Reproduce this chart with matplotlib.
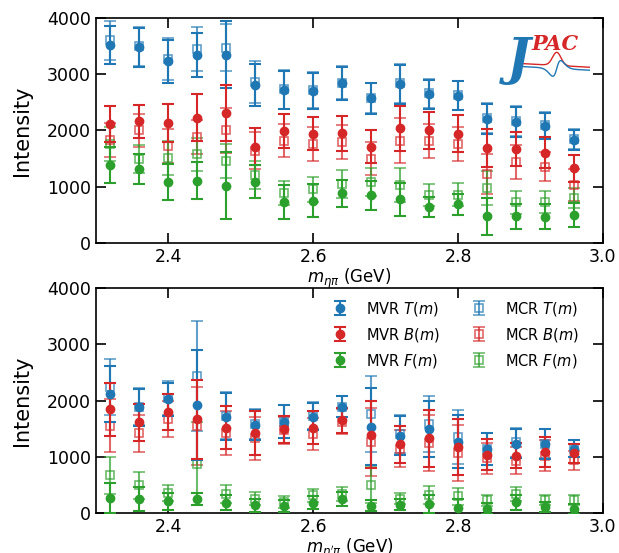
import numpy as np
import matplotlib
matplotlib.use('Agg')
import matplotlib.pyplot as plt

# mass bins (GeV)
m = [2.32, 2.36, 2.40, 2.44, 2.48, 2.52, 2.56, 2.60, 2.64, 2.68, 2.72, 2.76, 2.80, 2.84, 2.88, 2.92, 2.96]

# ---- eta pi (top panel) ----
etapi_mvr_T = [3520, 3480, 3230, 3340, 3350, 2810, 2720, 2705, 2840, 2570, 2820, 2645, 2620, 2200, 2155, 2080, 1830]
etapi_mvr_T_err = [340, 345, 380, 390, 600, 380, 340, 320, 290, 270, 345, 260, 255, 270, 270, 230, 175]
etapi_mcr_T = [3600, 3495, 3270, 3455, 3475, 2860, 2730, 2715, 2850, 2580, 2840, 2660, 2625, 2220, 2170, 2100, 1850]
etapi_mcr_T_err = [340, 345, 380, 390, 420, 380, 340, 320, 290, 270, 345, 260, 255, 270, 270, 230, 175]
etapi_mvr_B = [2115, 2160, 2130, 2230, 2305, 1710, 1990, 1945, 1950, 1710, 2040, 2000, 1940, 1695, 1675, 1605, 1330]
etapi_mvr_B_err = [320, 300, 335, 410, 500, 330, 300, 300, 310, 290, 400, 330, 330, 340, 300, 280, 240]
etapi_mcr_B = [1830, 2000, 1730, 1880, 2005, 1640, 1820, 1755, 1790, 1500, 1820, 1815, 1755, 1225, 1445, 1355, 1030]
etapi_mcr_B_err = [300, 300, 300, 300, 400, 330, 300, 300, 300, 290, 400, 300, 300, 350, 300, 260, 280]
etapi_mvr_F = [1390, 1310, 1080, 1105, 1020, 1090, 730, 755, 880, 845, 775, 640, 685, 475, 475, 465, 495]
etapi_mvr_F_err = [320, 270, 320, 330, 600, 290, 300, 290, 240, 260, 300, 180, 190, 330, 220, 220, 210]
etapi_mcr_F = [1760, 1500, 1515, 1575, 1460, 1205, 890, 955, 1050, 1080, 1035, 850, 860, 980, 720, 730, 795]
etapi_mcr_F_err = [300, 250, 300, 300, 300, 250, 220, 220, 250, 250, 300, 200, 200, 300, 200, 200, 180]

# ---- eta' pi (bottom panel) ----
etappi_mvr_T = [2115, 1880, 2020, 1925, 1710, 1565, 1625, 1710, 1890, 1535, 1375, 1490, 1270, 1145, 1235, 1225, 1145]
etappi_mvr_T_err = [500, 330, 300, 975, 420, 270, 290, 240, 185, 680, 345, 500, 475, 285, 260, 265, 150]
etappi_mcr_T = [2235, 1890, 2040, 2435, 1730, 1580, 1625, 1730, 1890, 1760, 1405, 1580, 1355, 1145, 1260, 1235, 1145]
etappi_mcr_T_err = [500, 330, 300, 970, 420, 270, 290, 240, 185, 670, 345, 500, 475, 285, 260, 265, 150]
etappi_mvr_B = [1845, 1615, 1800, 1665, 1520, 1415, 1490, 1520, 1650, 1395, 1225, 1325, 1175, 1040, 1020, 1080, 1060]
etappi_mvr_B_err = [475, 330, 320, 700, 390, 390, 240, 290, 225, 600, 330, 500, 500, 270, 220, 270, 170]
etappi_mcr_B = [1555, 1415, 1665, 1545, 1415, 1325, 1475, 1405, 1625, 1265, 1145, 1250, 1070, 970, 925, 1020, 940]
etappi_mcr_B_err = [475, 330, 320, 700, 390, 390, 240, 290, 225, 600, 330, 500, 500, 270, 240, 270, 170]
etappi_mvr_F = [265, 245, 210, 250, 185, 135, 125, 185, 245, 130, 150, 160, 95, 75, 190, 100, 75]
etappi_mvr_F_err = [260, 210, 150, 100, 130, 120, 110, 120, 120, 100, 100, 160, 150, 100, 130, 90, 90]
etappi_mcr_F = [670, 495, 355, 880, 345, 255, 195, 315, 335, 505, 255, 325, 295, 225, 335, 225, 225]
etappi_mcr_F_err = [330, 240, 145, 740, 160, 120, 110, 120, 120, 330, 100, 160, 150, 100, 130, 90, 90]

labels_mvr = ['MVR $T(m)$', 'MVR $B(m)$', 'MVR $F(m)$']
labels_mcr = ['MCR $T(m)$', 'MCR $B(m)$', 'MCR $F(m)$']
colors = ['#1f77b4', '#d62728', '#2ca02c']

fig = plt.figure(figsize=(6.19, 5.53), dpi=100)
ax1 = fig.add_axes([0.155, 0.5606, 0.819, 0.4069])
ax2 = fig.add_axes([0.155, 0.0723, 0.819, 0.4069])


def draw_panel(ax, mvr, mvr_err, mcr, mcr_err, xlabel):
  handles = []
  for k in range(3):
    h = ax.errorbar(m, mvr[k], yerr=mvr_err[k], fmt='o', color=colors[k], ms=6,
                    capsize=4, elinewidth=1.5, capthick=1.5, label=labels_mvr[k], zorder=3)
    handles.append(h)
  for k in range(3):
    h = ax.errorbar(m, mcr[k], yerr=mcr_err[k], fmt='s', color=colors[k], mfc='none', ms=6,
                    mew=1.2, capsize=4, elinewidth=1.5, capthick=1.5, alpha=0.7,
                    label=labels_mcr[k], zorder=2)
    handles.append(h)
  ax.set_xlim(2.3, 3.0)
  ax.set_ylim(0, 4000)
  ax.set_xticks([2.4, 2.6, 2.8, 3.0])
  ax.set_yticks([0, 1000, 2000, 3000, 4000])
  ax.tick_params(direction='in', top=True, right=True, length=7, width=1.2, labelsize=12.5)
  ax.set_ylabel('Intensity', fontsize=15, labelpad=11)
  ax.set_xlabel(xlabel, fontsize=12, labelpad=1)
  for sp in ax.spines.values():
    sp.set_linewidth(1.2)
  return handles


draw_panel(ax1, [etapi_mvr_T, etapi_mvr_B, etapi_mvr_F],
           [etapi_mvr_T_err, etapi_mvr_B_err, etapi_mvr_F_err],
           [etapi_mcr_T, etapi_mcr_B, etapi_mcr_F],
           [etapi_mcr_T_err, etapi_mcr_B_err, etapi_mcr_F_err],
           r'$m_{\eta\pi}$ (GeV)')
hh = draw_panel(ax2, [etappi_mvr_T, etappi_mvr_B, etappi_mvr_F],
                [etappi_mvr_T_err, etappi_mvr_B_err, etappi_mvr_F_err],
                [etappi_mcr_T, etappi_mcr_B, etappi_mcr_F],
                [etappi_mcr_T_err, etappi_mcr_B_err, etappi_mcr_F_err],
                r"$m_{\eta'\pi}$ (GeV)")
ax2.legend(handles=hh, ncol=2, loc='upper right', frameon=False, fontsize=10.5,
           handlelength=1.6, columnspacing=1.9, handletextpad=0.95, labelspacing=0.55,
           borderaxespad=0.4, bbox_to_anchor=(0.975, 1.0))

# JPAC logo
lax = fig.add_axes([0.80, 0.846, 0.153, 0.108])
lax.set_xlim(0, 1)
lax.set_ylim(0, 1)
lax.axis('off')
lax.text(0.12, 0.0, 'J', color='#1f77b4', fontsize=36, fontweight='bold',
         fontstyle='italic', family='DejaVu Serif', va='bottom')
lax.text(0.38, 0.52, 'PAC', color='#d62728', fontsize=15, fontweight='bold',
         fontstyle='italic', family='DejaVu Serif', va='bottom')
t = np.linspace(0, 1, 100)
lax.plot(0.3 + 0.7 * t, 0.36 + 0.22 * np.exp(-((t - 0.5) / 0.09) ** 2) - 0.06 * t, color='#d62728', lw=1)
lax.plot(0.3 + 0.7 * t, 0.31 + 0.2 * np.tanh((t - 0.5) / 0.05) * np.exp(-((t - 0.5) / 0.13) ** 2) - 0.06 * t,
         color='#1f77b4', lw=1)

plt.savefig('out.png', dpi=100)
